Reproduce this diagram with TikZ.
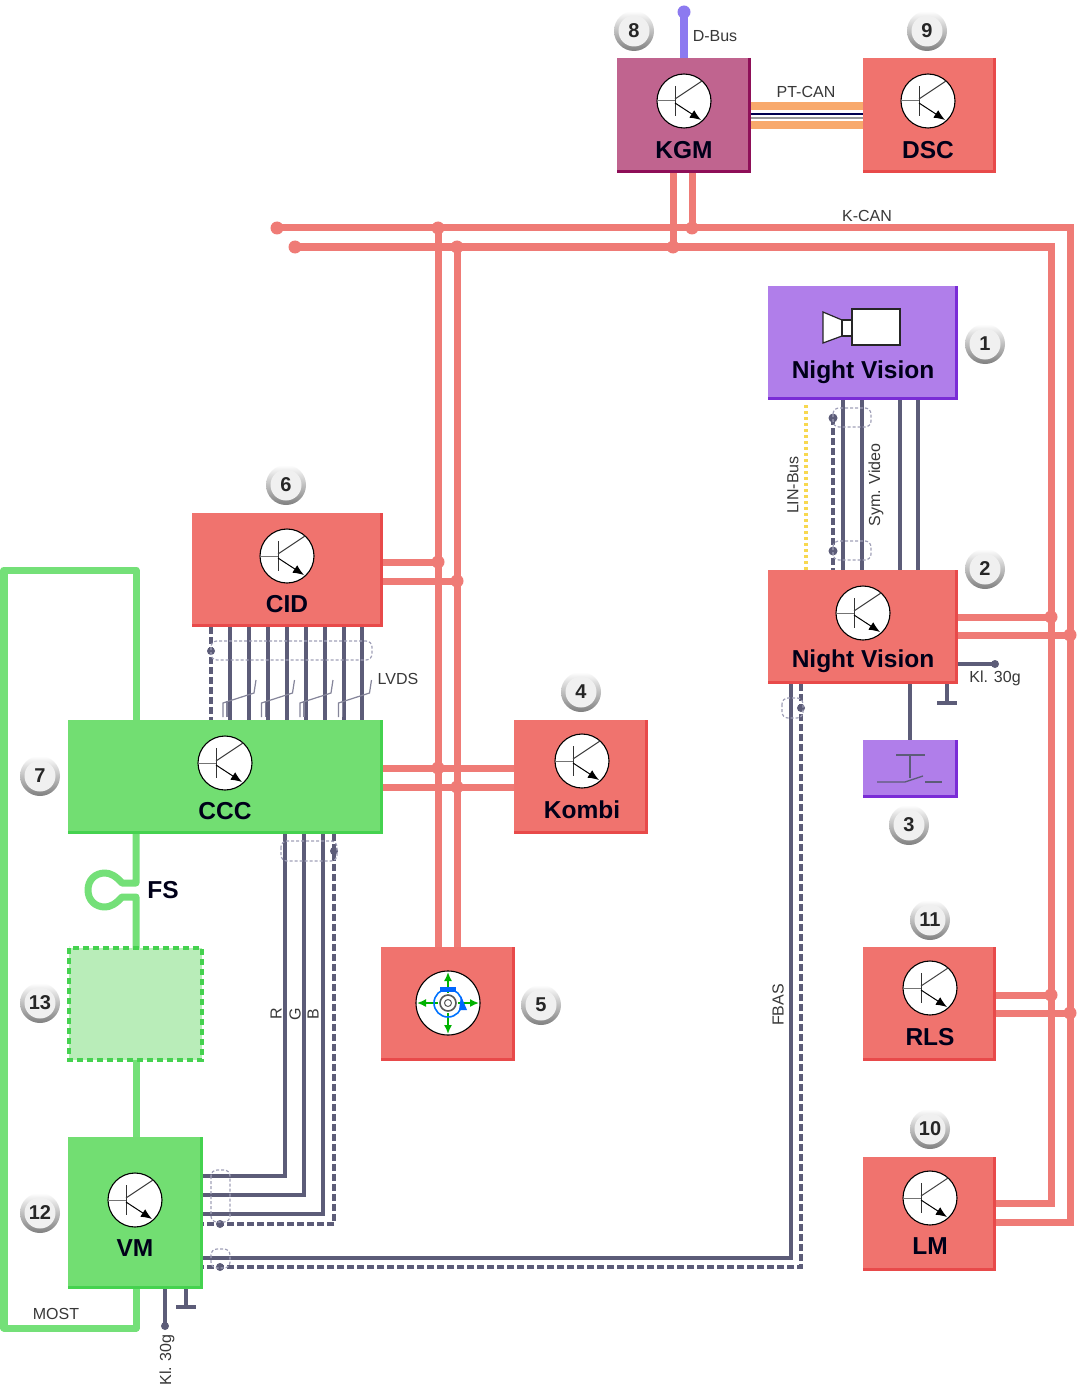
\documentclass[tikz,border=0pt]{standalone}
\usepackage{fontspec}
\setmainfont{Liberation Sans}
\usetikzlibrary{arrows.meta}
\definecolor{redfill}{HTML}{F0736E}
\definecolor{rededge}{HTML}{E84A4A}
\definecolor{redline}{HTML}{EF7B76}
\definecolor{purfill}{HTML}{B07EEA}
\definecolor{puredge}{HTML}{7A2CD6}
\definecolor{kgmfill}{HTML}{C0648F}
\definecolor{kgmedge}{HTML}{8E0F58}
\definecolor{grnfill}{HTML}{72DE72}
\definecolor{grnedge}{HTML}{45D24F}
\definecolor{grnline}{HTML}{74E078}
\definecolor{grnpale}{HTML}{B9EDB9}
\definecolor{wire}{HTML}{5C5C78}
\definecolor{shieldc}{HTML}{A0A0B8}
\definecolor{orangec}{HTML}{F8A96C}
\definecolor{dbus}{HTML}{8C7AF0}
\definecolor{linc}{HTML}{F8D850}
\tikzset{
  ecubox/.style={inner sep=0pt,outer sep=0pt,rectangle},
  redbox/.style={ecubox,fill=redfill},
  purbox/.style={ecubox,fill=purfill},
  kgmbox/.style={ecubox,fill=kgmfill},
  grnbox/.style={ecubox,fill=grnfill},
  can/.style={draw=redline,line width=7pt,line cap=butt,line join=miter},
  candot/.style={circle,fill=redline,inner sep=0pt,minimum size=13pt},
  most/.style={draw=grnline,line width=7pt,line join=round},
  wirel/.style={draw=wire,line width=3.4pt},
  shieldl/.style={draw=wire,line width=3.6pt,dash pattern=on 7pt off 3pt},
  wiredot/.style={circle,fill=wire,inner sep=0pt,minimum size=9pt},
  shieldring/.style={draw=shieldc,line width=1.2pt,dash pattern=on 3pt off 2pt,rounded corners=6pt},
  twistl/.style={draw=wire!75,line width=1.2pt},
  lab/.style={font=\fontsize{16}{18}\selectfont,text=black!78,inner sep=0pt},
  title/.style={font=\fontsize{24.5}{28}\selectfont\bfseries,text=black!90!blue,inner sep=0pt,yshift=-1pt},
  badge/.style={circle,inner sep=0pt,minimum size=40pt,top color=white,bottom color=black!50,
    font=\fontsize{20}{22}\selectfont\bfseries,text=black!85,
    path picture={\fill[black!6] (path picture bounding box.center) circle (15.5pt);}},
  pics/transistor/.style={code={
    \fill[white] (0,0) circle (27);
    \draw[black,line width=1.1pt] (0,0) circle (27);
    \draw[black!55,line width=1pt] (-27,0)--(-9,0);
    \draw[black!80,line width=1pt] (-9,-15)--(-9,15);
    \draw[black!75,line width=1pt] (-9,-2)--(18,-20);
    \draw[black,line width=1pt,-{Latex[length=11pt,width=9pt]}] (-9,2)--(17,19);
  }},
}
% name, x1, y1, x2, y2, fill style, edge colour
\newcommand{\ecu}[7]{%
  \pgfmathsetmacro{\cxx}{(#2+#4)/2}\pgfmathsetmacro{\cyy}{(#3+#5)/2}%
  \pgfmathsetmacro{\wdd}{#4-#2}\pgfmathsetmacro{\htt}{#5-#3}%
  \node[#6,minimum width=\wdd pt,minimum height=\htt pt] (#1) at (\cxx,\cyy) {};
  \draw[#7,line width=3pt] ([xshift=-1.5pt]#1.north east)--([xshift=-1.5pt,yshift=1.5pt]#1.south east)--([yshift=1.5pt]#1.south west);
}
\begin{document}
\begin{tikzpicture}[x=1pt,y=-1pt]
\useasboundingbox (0,0) rectangle (1078,1388);
\fill[white] (0,0) rectangle (1078,1388);

% boxes
\ecu{kgm}{617}{58}{751}{173}{kgmbox}{kgmedge}
\ecu{dsc}{863}{58}{996}{173}{redbox}{rededge}
\ecu{nvcam}{768}{286}{958}{400}{purbox}{puredge}
\ecu{nvecu}{768}{570}{958}{684}{redbox}{rededge}
\ecu{sw}{863}{740}{958}{798}{purbox}{puredge}
\ecu{cid}{192}{513}{383}{627}{redbox}{rededge}
\ecu{ccc}{68}{720}{383}{834}{grnbox}{grnedge}
\ecu{kombi}{514}{720}{648}{834}{redbox}{rededge}
\ecu{ctrl}{381}{947}{515}{1061}{redbox}{rededge}
\ecu{rls}{863}{947}{996}{1061}{redbox}{rededge}
\ecu{lm}{863}{1157}{996}{1271}{redbox}{rededge}
\ecu{vm}{68}{1137}{203}{1289}{grnbox}{grnedge}
\node[ecubox,fill=grnpale,minimum width=133pt,minimum height=112pt] (ph) at (135.5,1004) {};

% K-CAN junctions
\node[candot] (jkt) at (692,228) {};
\node[candot] (jkb) at (673,247) {};
\node[candot] (jvt) at (438,228) {};
\node[candot] (jvb) at (457,247) {};
\node[candot] (endt) at (277,228) {};
\node[candot] (endb) at (295,247) {};
\node[candot] (jcidt) at (438,562) {};
\node[candot] (jcidb) at (457,581) {};
\node[candot] (jccct) at (438,768) {};
\node[candot] (jcccb) at (457,787) {};
\node[candot] (jnvt) at (1051,617) {};
\node[candot] (jnvb) at (1070,635) {};
\node[candot] (jrlst) at (1051,995) {};
\node[candot] (jrlsb) at (1070,1013) {};
\coordinate (ct) at (1070,228);
\coordinate (cb) at (1051,247);
\coordinate (lmt) at (1051,1203);
\coordinate (lmb) at (1070,1222);

\draw[can] (endt.center)--(ct)--(lmb)--(lmb-|lm.east);
\draw[can] (endb.center)--(cb)--(lmt)--(lmt-|lm.east);
\draw[can] (jkt|-kgm.south)--(jkt.center);
\draw[can] (jkb|-kgm.south)--(jkb.center);
\draw[can] (jvt.center)--(jvt|-ctrl.north);
\draw[can] (jvb.center)--(jvb|-ctrl.north);
\draw[can] (jcidt-|cid.east)--(jcidt.center);
\draw[can] (jcidb-|cid.east)--(jcidb.center);
\draw[can] (jccct-|ccc.east)--(jccct-|kombi.west);
\draw[can] (jcccb-|ccc.east)--(jcccb-|kombi.west);
\draw[can] (jnvt-|nvecu.east)--(jnvt.center);
\draw[can] (jnvb-|nvecu.east)--(jnvb.center);
\draw[can] (jrlst-|rls.east)--(jrlst.center);
\draw[can] (jrlsb-|rls.east)--(jrlsb.center);

% D-Bus, PT-CAN
\node[circle,fill=dbus,inner sep=0pt,minimum size=13pt] (dbusend) at (684,12) {};
\draw[draw=dbus,line width=8pt] (dbusend.center)--(kgm.north);
\coordinate (pta) at (700,106);
\coordinate (ptb) at (700,125);
\coordinate (ptc) at (700,114);
\coordinate (ptd) at (700,118);
\draw[draw=orangec,line width=7.5pt] (pta-|kgm.east)--(pta-|dsc.west);
\draw[draw=orangec,line width=7.5pt] (ptb-|kgm.east)--(ptb-|dsc.west);
\draw[draw=black!30!blue!45!black,line width=2.4pt] (ptc-|kgm.east)--(ptc-|dsc.west);
\draw[draw=black!40,line width=2.4pt] (ptd-|kgm.east)--(ptd-|dsc.west);

% Night Vision camera to ECU
\coordinate (lin) at (806,405);
\draw[draw=linc,line width=4pt,dash pattern=on 3pt off 3pt] (lin)--(lin|-nvecu.north);
\node[wiredot] (dnvt) at (833,418) {};
\node[wiredot] (dnvb) at (833,551) {};
\draw[shieldl] (dnvt.center)--(dnvb|-nvecu.north);
\foreach \xx/\nm in {843/s1,862/s2,900/s3,918/s4}{
  \coordinate (\nm) at (\xx,450);
  \draw[wirel] (\nm|-nvcam.south)--(\nm|-nvecu.north);
}
\draw[shieldring] (833,408) rectangle (871,427);
\draw[shieldring] (833,541) rectangle (871,560);

% NV ECU extras
\node[wiredot,minimum size=8pt] (klnv) at (995,664) {};
\draw[wirel] (klnv-|nvecu.east)--(klnv.center);
\coordinate (gnv) at (947,703);
\draw[wirel] (gnv|-nvecu.south)--(gnv);
\draw[draw=wire,line width=3.4pt] ([xshift=-10pt]gnv)--([xshift=10pt]gnv);
\coordinate (swc) at (910,710);
\draw[wirel] (swc|-nvecu.south)--(swc|-sw.north);

% FBAS
\coordinate (fs1) at (791,1258);
\coordinate (fd1) at (801,1267);
\draw[wirel] (fs1|-nvecu.south)--(fs1)--(fs1-|vm.east);
\draw[shieldl] (fd1|-nvecu.south)--(fd1)--(fd1-|vm.east);
\node[wiredot,minimum size=8pt] (dfb1) at (801,708) {};
\node[wiredot,minimum size=8pt] (dfb2) at (220,1267) {};
\draw[shieldring] (782,698) rectangle (803,718);
\draw[shieldring] (211,1249) rectangle (230,1268);

% LVDS
\node[wiredot,minimum size=8pt] (dlv) at (211,651) {};
\draw[shieldl] (dlv|-cid.south)--(dlv|-ccc.north);
\foreach \xx/\nm in {230/l1,249/l2,268/l3,287/l4,306/l5,325/l6,344/l7,362/l8}{
  \coordinate (\nm) at (\xx,670);
  \draw[wirel] (\nm|-cid.south)--(\nm|-ccc.north);
}
\draw[shieldring] (211,641) rectangle (372,660);
\foreach \ox in {0,38.5,77,115.5}{
  \draw[twistl] (223+\ox,717)--(223+\ox,703)--(254+\ox,693)--(256+\ox,680);
  \draw[twistl] (227+\ox,717)--(227+\ox,701);
}

% RGB
\coordinate (rr) at (285,1176);
\coordinate (gg) at (304,1195);
\coordinate (bb) at (323,1214);
\coordinate (ss) at (334,1224);
\draw[wirel] (rr|-ccc.south)--(rr)--(rr-|vm.east);
\draw[wirel] (gg|-ccc.south)--(gg)--(gg-|vm.east);
\draw[wirel] (bb|-ccc.south)--(bb)--(bb-|vm.east);
\draw[shieldl] (ss|-ccc.south)--(ss)--(ss-|vm.east);
\node[wiredot,minimum size=8pt] (drgb) at (334,851) {};
\node[wiredot,minimum size=8pt] (drgb2) at (220,1224) {};
\draw[shieldring] (281,841) rectangle (337,861);
\draw[shieldring] (211,1170) rectangle (230,1222);

% VM extras
\node[wiredot,minimum size=8pt] (klvm) at (165,1326) {};
\draw[wirel] (klvm|-vm.south)--(klvm.center);
\coordinate (gvm) at (186,1307);
\draw[wirel] (gvm|-vm.south)--(gvm);
\draw[draw=wire,line width=3.4pt] ([xshift=-10pt]gvm)--([xshift=10pt]gvm);

% MOST ring
\coordinate (m1) at (136,1328);
\coordinate (m2) at (4,1328);
\coordinate (m3) at (4,570);
\coordinate (m4) at (136,570);
\coordinate (fsa) at (136,883);
\coordinate (fsb) at (136,897);
\draw[most] (m1|-vm.south)--(m1)--(m2)--(m3)--(m4)--(m4|-ccc.north);
\draw[most] (fsa|-ccc.south)--(fsa)--(122,883)
  .. controls (116,876) and (110,873) .. (105,873)
  .. controls (95,873) and (88,880) .. (88,890)
  .. controls (88,900) and (95,907) .. (105,907)
  .. controls (110,907) and (116,904) .. (122,897)--(fsb)--(fsb|-ph.north);
\draw[most] (ph.south-|m1)--(m1|-vm.north);
\draw[draw=grnedge,line width=3.5pt,dash pattern=on 6pt off 4pt] (ph.north west) rectangle (ph.south east);

% transistors
\foreach \px/\py in {684/101,928/101,863/613,287/556,225/763,582/761,930/988,930/1198,135/1200}{
  \pic at (\px,\py) {transistor};
}

% camera icon
\draw[black!85,fill=white,line width=1.2pt] (823,312)--(842,320)--(842,336)--(823,343)--cycle;
\draw[black!85,fill=white,line width=1.2pt] (842,320) rectangle (852,336);
\draw[black!85,fill=white,line width=1.2pt] (852,309) rectangle (900,345);

% switch icon
\draw[draw=wire,line width=1.3pt] (896,755)--(925,755);
\draw[draw=wire,line width=1.3pt] (910,755)--(910,778);
\draw[draw=wire,line width=1.3pt] (877,782)--(905,782)--(923,776);
\draw[draw=wire,line width=1.3pt] (925,782)--(942,782);

% control-knob icon
\fill[white] (448,1003) circle (32);
\draw[black,line width=1.1pt] (448,1003) circle (32);
\draw[draw=green!70!black,line width=1.6pt,{Latex[length=9pt,width=8pt]}-{Latex[length=9pt,width=8pt]}] (417,1003)--(479,1003);
\draw[draw=green!70!black,line width=1.6pt,{Latex[length=9pt,width=8pt]}-{Latex[length=9pt,width=8pt]}] (448,972)--(448,1034);
\draw[draw=blue!55!cyan,line width=1.6pt] (448,1003) circle (14);
\fill[blue!60!cyan] (440,987) rectangle (456,992);
\fill[blue!60!cyan] (461,996)--(467,1010)--(459,1010)--cycle;
\fill[white] (448,1003) circle (10);
\draw[black!65,line width=1.6pt] (448,1003) circle (8);
\draw[black!65,line width=1pt] (448,1003) circle (3.5);

% titles
\node[title] (tkgm) at (684,149) {KGM};
\node[title] (tdsc) at (928,149) {DSC};
\node[title] (tnv1) at (863,371) {Night Vision};
\node[title] (tnv2) at (863,660) {Night Vision};
\node[title] (tcid) at (287,603) {CID};
\node[title] (tccc) at (225,810) {CCC};
\node[title] (tkom) at (582,809) {Kombi};
\node[title] (trls) at (930,1036) {RLS};
\node[title] (tlm) at (930,1245) {LM};
\node[title] (tvm) at (135,1247) {VM};
\node[title] (tfs) at (163,889) {FS};

% labels
\node[lab] (ldbus) at (715,36) {D-Bus};
\node[lab] (lpt) at (806,92) {PT-CAN};
\node[lab] (lk) at (867,216) {K-CAN};
\node[lab,rotate=90] (llin) at (793,485) {LIN-Bus};
\node[lab,rotate=90] (lsym) at (876,485) {Sym. Video};
\node[lab] (lkl) at (995,678) {Kl. 30g};
\node[lab] (llvds) at (398,679) {LVDS};
\node[lab,rotate=90] (lfbas) at (778,1005) {FBAS};
\node[lab,rotate=90] (lr) at (276,1014) {R};
\node[lab,rotate=90] (lg) at (295,1014) {G};
\node[lab,rotate=90] (lb) at (313,1014) {B};
\node[lab] (lmost) at (56,1314) {MOST};
\node[lab,rotate=90] (lkl2) at (167,1360) {Kl. 30g};

% badges
\node[badge] (b1) at (985,344) {1};
\node[badge] (b2) at (985,569) {2};
\node[badge] (b3) at (909,825) {3};
\node[badge] (b4) at (581,692) {4};
\node[badge] (b5) at (541,1005) {5};
\node[badge] (b6) at (286,485) {6};
\node[badge] (b7) at (40,776) {7};
\node[badge] (b8) at (634,31) {8};
\node[badge] (b9) at (927,31) {9};
\node[badge] (b10) at (930,1129) {10};
\node[badge] (b11) at (930,920) {11};
\node[badge] (b12) at (40,1213) {12};
\node[badge] (b13) at (40,1003) {13};
\end{tikzpicture}
\end{document}
